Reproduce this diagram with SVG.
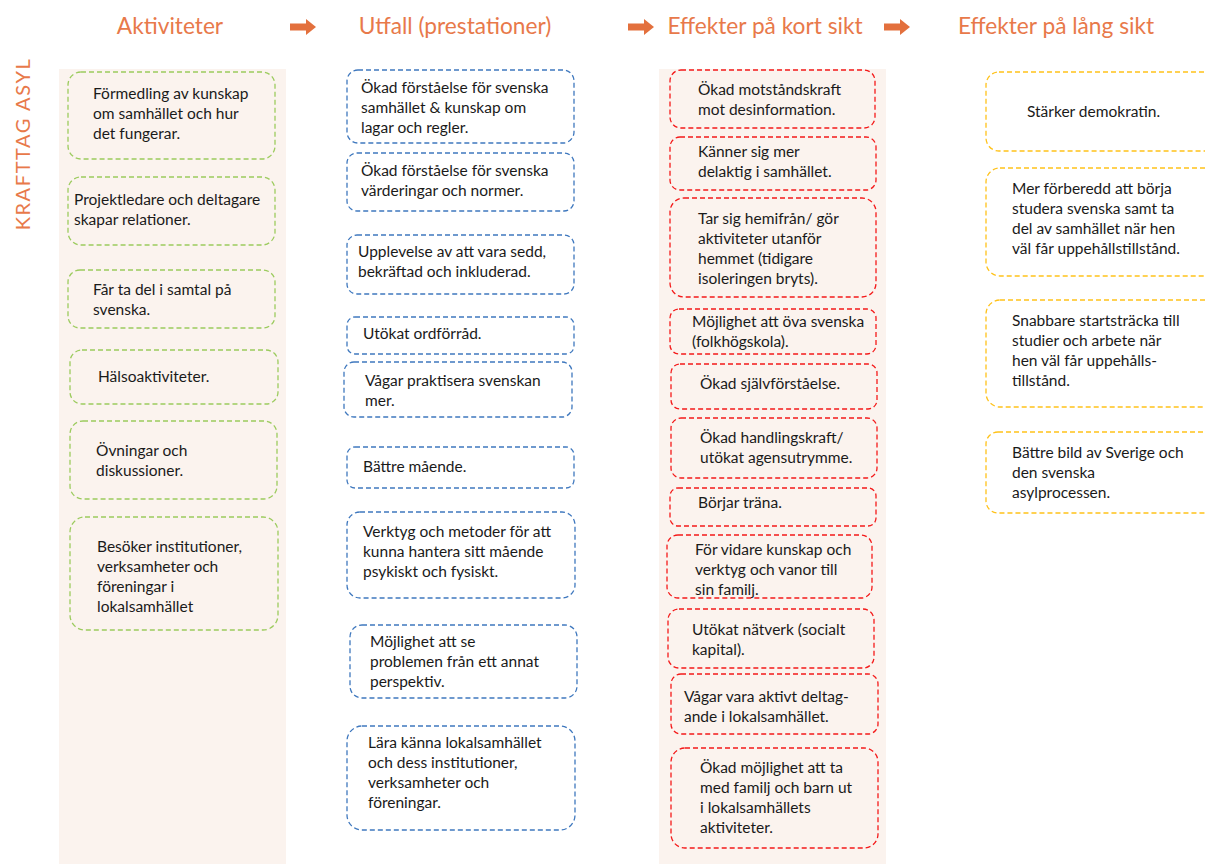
<svg xmlns="http://www.w3.org/2000/svg" width="1205" height="864" viewBox="0 0 1205 864">
<defs>
<style>
.bg{fill:#FBF3EE}
.hd{font-family:Lato,"Open Sans",sans-serif;font-size:22.7px;fill:#E8794A}
.t{font-family:Lato,"Open Sans",sans-serif;font-size:15.5px;fill:#1a1a1a}
.g{fill:none;stroke:#9CCB5E;stroke-width:1.3;stroke-dasharray:5 3}
.b{fill:none;stroke:#3F78BE;stroke-width:1.3;stroke-dasharray:5 3}
.r{fill:none;stroke:#F41A1A;stroke-width:1.3;stroke-dasharray:5 3}
.y{fill:none;stroke:#FFC21A;stroke-width:1.3;stroke-dasharray:5 3}
.ar{fill:#E3703D}
</style>
<path id="arrow" d="M0,-3.5 H16 V-8 L26,0 L16,8 V3.5 H0 Z"/>
</defs>
<rect class="bg" x="59" y="69" width="227" height="795"/>
<rect class="bg" x="659" y="69" width="227" height="795"/>
<text class="hd" x="0" y="0" transform="translate(29.5,144) rotate(-90)" text-anchor="middle" style="font-size:20px;letter-spacing:1.6px">KRAFTTAG ASYL</text>
<g id="headers">
<text class="hd" x="170" y="34" text-anchor="middle">Aktiviteter</text>
<text class="hd" x="455" y="34" text-anchor="middle">Utfall (prestationer)</text>
<text class="hd" x="765" y="34" text-anchor="middle">Effekter på kort sikt</text>
<text class="hd" x="1056" y="34" text-anchor="middle">Effekter på lång sikt</text>
</g>
<g id="connectors">
<use href="#arrow" class="ar" x="290" y="27"/>
<use href="#arrow" class="ar" x="628" y="27"/>
<use href="#arrow" class="ar" x="884" y="27"/>
</g>
<g id="a1"><rect class="g" x="68" y="72" width="207" height="87" rx="13"/><text class="t" x="93"><tspan x="93" y="99">Förmedling av kunskap</tspan><tspan x="93" y="119">om samhället och hur</tspan><tspan x="93" y="139">det fungerar.</tspan></text></g>
<g id="a2"><rect class="g" x="68" y="177" width="207" height="68" rx="13"/><text class="t"><tspan x="74" y="205">Projektledare och deltagare</tspan><tspan x="74" y="225">skapar relationer.</tspan></text></g>
<g id="a3"><rect class="g" x="68" y="270" width="207" height="58" rx="12"/><text class="t"><tspan x="93" y="295">Får ta del i samtal på</tspan><tspan x="93" y="315">svenska.</tspan></text></g>
<g id="a4"><rect class="g" x="70" y="350" width="208" height="54" rx="12"/><text class="t"><tspan x="98" y="382">Hälsoaktiviteter.</tspan></text></g>
<g id="a5"><rect class="g" x="70" y="421" width="207" height="78" rx="13"/><text class="t"><tspan x="96" y="456">Övningar och</tspan><tspan x="96" y="476">diskussioner.</tspan></text></g>
<g id="a6"><rect class="g" x="70" y="517" width="208" height="113" rx="15"/><text class="t"><tspan x="97" y="552">Besöker institutioner,</tspan><tspan x="97" y="572">verksamheter och</tspan><tspan x="97" y="592">föreningar i</tspan><tspan x="97" y="612">lokalsamhället</tspan></text></g>

<g id="u1"><rect class="b" x="347" y="70" width="227" height="73" rx="11"/><text class="t"><tspan x="361" y="93">Ökad förståelse för svenska</tspan><tspan x="361" y="113">samhället &amp; kunskap om</tspan><tspan x="361" y="133">lagar och regler.</tspan></text></g>
<g id="u2"><rect class="b" x="347" y="153" width="227" height="58" rx="10"/><text class="t"><tspan x="361" y="176">Ökad förståelse för svenska</tspan><tspan x="361" y="196">värderingar och normer.</tspan></text></g>
<g id="u3"><rect class="b" x="347" y="235" width="227" height="59" rx="10"/><text class="t"><tspan x="358" y="257">Upplevelse av att vara sedd,</tspan><tspan x="358" y="277">bekräftad och inkluderad.</tspan></text></g>
<g id="u4"><rect class="b" x="347" y="317" width="227" height="37" rx="8"/><text class="t"><tspan x="363" y="339">Utökat ordförråd.</tspan></text></g>
<g id="u5"><rect class="b" x="344" y="362" width="228" height="55" rx="10"/><text class="t"><tspan x="365" y="386">Vågar praktisera svenskan</tspan><tspan x="365" y="406">mer.</tspan></text></g>
<g id="u6"><rect class="b" x="347" y="447" width="227" height="41" rx="8"/><text class="t"><tspan x="363" y="472">Bättre mående.</tspan></text></g>
<g id="u7"><rect class="b" x="347" y="512" width="228" height="86" rx="13"/><text class="t"><tspan x="363" y="537">Verktyg och metoder för att</tspan><tspan x="363" y="557">kunna hantera sitt mående</tspan><tspan x="363" y="577">psykiskt och fysiskt.</tspan></text></g>
<g id="u8"><rect class="b" x="350" y="625" width="227" height="73" rx="12"/><text class="t"><tspan x="370" y="647">Möjlighet att se</tspan><tspan x="370" y="667">problemen från ett annat</tspan><tspan x="370" y="687">perspektiv.</tspan></text></g>
<g id="u9"><rect class="b" x="347" y="726" width="228" height="104" rx="15"/><text class="t"><tspan x="368" y="748">Lära känna lokalsamhället</tspan><tspan x="368" y="768">och dess institutioner,</tspan><tspan x="368" y="788">verksamheter och</tspan><tspan x="368" y="808">föreningar.</tspan></text></g>

<g id="k1"><rect class="r" x="670" y="70" width="205" height="58" rx="11"/><text class="t"><tspan x="698" y="95">Ökad motståndskraft</tspan><tspan x="698" y="115">mot desinformation.</tspan></text></g>
<g id="k2"><rect class="r" x="670" y="137" width="206" height="53" rx="10"/><text class="t"><tspan x="698" y="157">Känner sig mer</tspan><tspan x="698" y="177">delaktig i samhället.</tspan></text></g>
<g id="k3"><rect class="r" x="670" y="198" width="206" height="99" rx="14"/><text class="t"><tspan x="698" y="224">Tar sig hemifrån/ gör</tspan><tspan x="698" y="244">aktiviteter utanför</tspan><tspan x="698" y="264">hemmet (tidigare</tspan><tspan x="698" y="284">isoleringen bryts).</tspan></text></g>
<g id="k4"><rect class="r" x="670" y="309" width="206" height="45" rx="9"/><text class="t"><tspan x="692" y="327">Möjlighet att öva svenska</tspan><tspan x="692" y="347">(folkhögskola).</tspan></text></g>
<g id="k5"><rect class="r" x="671" y="364" width="206" height="45" rx="9"/><text class="t"><tspan x="700" y="389">Ökad självförståelse.</tspan></text></g>
<g id="k6"><rect class="r" x="671" y="418" width="206" height="60" rx="10"/><text class="t"><tspan x="700" y="443">Ökad handlingskraft/</tspan><tspan x="700" y="463">utökat agensutrymme.</tspan></text></g>
<g id="k7"><rect class="r" x="670" y="488" width="206" height="38" rx="8"/><text class="t"><tspan x="698" y="508">Börjar träna.</tspan></text></g>
<g id="k8"><rect class="r" x="667" y="535" width="205" height="63" rx="11"/><text class="t"><tspan x="695" y="555">För vidare kunskap och</tspan><tspan x="695" y="575">verktyg och vanor till</tspan><tspan x="695" y="595">sin familj.</tspan></text></g>
<g id="k9"><rect class="r" x="668" y="609" width="206" height="59" rx="11"/><text class="t"><tspan x="692" y="635">Utökat nätverk (socialt</tspan><tspan x="692" y="655">kapital).</tspan></text></g>
<g id="k10"><rect class="r" x="671" y="674" width="207" height="60" rx="10"/><text class="t"><tspan x="684" y="702">Vågar vara aktivt deltag-</tspan><tspan x="684" y="722">ande i lokalsamhället.</tspan></text></g>
<g id="k11"><rect class="r" x="671" y="748" width="207" height="100" rx="14"/><text class="t"><tspan x="700" y="773">Ökad möjlighet att ta</tspan><tspan x="700" y="793">med familj och barn ut</tspan><tspan x="700" y="813">i lokalsamhällets</tspan><tspan x="700" y="833">aktiviteter.</tspan></text></g>

<g id="l1"><rect class="y" x="986" y="72" width="240" height="79" rx="13"/><text class="t"><tspan x="1027" y="117">Stärker demokratin.</tspan></text></g>
<g id="l2"><rect class="y" x="986" y="168" width="240" height="108" rx="14"/><text class="t"><tspan x="1012" y="194">Mer förberedd att börja</tspan><tspan x="1012" y="214">studera svenska samt ta</tspan><tspan x="1012" y="234">del av samhället när hen</tspan><tspan x="1012" y="254">väl får uppehållstillstånd.</tspan></text></g>
<g id="l3"><rect class="y" x="986" y="300" width="240" height="107" rx="14"/><text class="t"><tspan x="1012" y="326">Snabbare startsträcka till</tspan><tspan x="1012" y="346">studier och arbete när</tspan><tspan x="1012" y="366">hen väl får uppehålls-</tspan><tspan x="1012" y="386">tillstånd.</tspan></text></g>
<g id="l4"><rect class="y" x="986" y="432" width="240" height="81" rx="12"/><text class="t"><tspan x="1012" y="458">Bättre bild av Sverige och</tspan><tspan x="1012" y="478">den svenska</tspan><tspan x="1012" y="498">asylprocessen.</tspan></text></g>
</svg>
